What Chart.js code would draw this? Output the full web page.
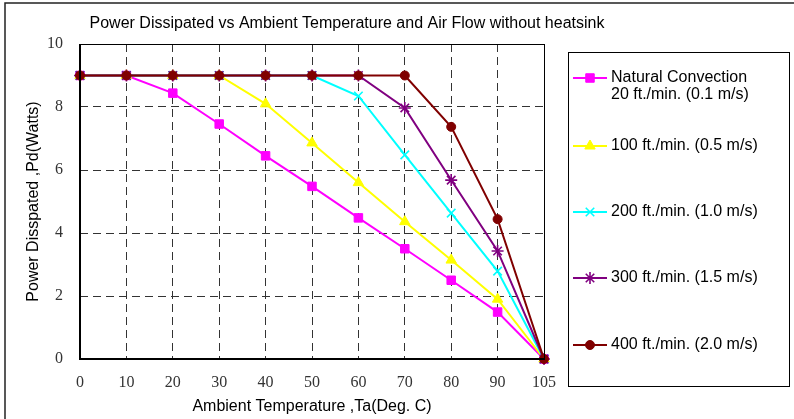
<!DOCTYPE html>
<html>
<head>
<meta charset="utf-8">
<script src="https://cdn.jsdelivr.net/npm/chart.js@4/dist/chart.umd.min.js"></script>
<style>
    html, body { margin: 0; padding: 0; background: #fff; }
    #wrap { width: 794px; height: 419px; position: relative; }
</style>
</head>
<body>
<div id="wrap"><canvas id="powerChart" width="794" height="419"></canvas></div>
<script>
// data
const temperatures = ['0', '10', '20', '30', '40', '50', '60', '70', '80', '90', '105'];
const naturalConvection = [9, 9, 8.44, 7.46, 6.45, 5.48, 4.48, 3.5, 2.5, 1.49, 0];
const flow100 = [9, 9, 9, 9, 8.1, 6.86, 5.6, 4.36, 3.14, 1.9, 0];
const flow200 = [9, 9, 9, 9, 9, 9, 8.35, 6.48, 4.63, 2.79, 0];
const flow300 = [9, 9, 9, 9, 9, 9, 9, 7.97, 5.68, 3.43, 0];
const flow400 = [9, 9, 9, 9, 9, 9, 9, 9, 7.37, 4.44, 0];
const seriesLabels = [
    ['Natural Convection', '20 ft./min. (0.1 m/s)'],
    '100 ft./min. (0.5 m/s)',
    '200 ft./min. (1.0 m/s)',
    '300 ft./min. (1.5 m/s)',
    '400 ft./min. (2.0 m/s)'
];
const yTicks = [0, 2, 4, 6, 8, 10];

const chartTitle = 'Power Dissipated vs Ambient Temperature and Air Flow without heatsink';
const sansFont = '"Liberation Sans", Arial, sans-serif';
const serifFont = '"Liberation Serif", "Times New Roman", serif';

// legend row centres (layout only)
const legendRows = [78, 146, 212, 278, 345];

function makeSeries(label, data, color, style, radius, order) {
    return {
        label: label,
        data: data,
        borderColor: color,
        backgroundColor: color,
        borderWidth: 2,
        pointStyle: style,
        pointRadius: radius,
        pointHoverRadius: radius,
        pointBorderWidth: style === 'crossRot' || style === 'star' ? 1.6 : 1,
        pointBorderColor: color,
        pointBackgroundColor: color,
        tension: 0,
        clip: false,
        order: order
    };
}

const frameAndLegend = {
    id: 'frameAndLegend',
    beforeDraw(chart) {
        const ctx = chart.ctx;
        ctx.save();
        ctx.fillStyle = '#fff';
        ctx.fillRect(0, 0, chart.width, chart.height);
        ctx.restore();
    },
    afterDatasetsDraw(chart) {
        const ctx = chart.ctx;
        const a = chart.chartArea;
        ctx.save();
        // plot box
        ctx.strokeStyle = '#000';
        ctx.lineWidth = 1;
        ctx.strokeRect(Math.round(a.left) + 0.5, Math.round(a.top) + 0.5,
            Math.round(a.right - a.left), Math.round(a.bottom - a.top));
        ctx.lineWidth = 2;
        ctx.beginPath();
        ctx.moveTo(a.left, a.top);
        ctx.lineTo(a.left, a.bottom);
        ctx.lineTo(a.right, a.bottom);
        ctx.stroke();
        ctx.restore();
    },
    afterDraw(chart) {
        const ctx = chart.ctx;
        ctx.save();

        // outer frame
        ctx.strokeStyle = '#222';
        ctx.lineWidth = 1.5;
        ctx.strokeRect(5, 3, 820, 440);

        // title
        ctx.fillStyle = '#000';
        ctx.font = '16px ' + sansFont;
        ctx.textAlign = 'center';
        ctx.textBaseline = 'middle';
        ctx.fillText(chartTitle, 347, 24);

        // legend box
        ctx.strokeStyle = '#000';
        ctx.lineWidth = 1;
        ctx.strokeRect(568.5, 52.5, 221, 334);
        ctx.textAlign = 'left';
        chart.data.datasets.forEach((ds, i) => {
            const y = legendRows[i];
            ctx.strokeStyle = ds.borderColor;
            ctx.lineWidth = 2;
            ctx.beginPath();
            ctx.moveTo(573, y);
            ctx.lineTo(607, y);
            ctx.stroke();
            ctx.fillStyle = ds.borderColor;
            ctx.lineWidth = ds.pointBorderWidth;
            Chart.helpers.drawPoint(ctx, {
                pointStyle: ds.pointStyle,
                radius: ds.pointRadius,
                borderWidth: ds.pointBorderWidth,
                rotation: 0
            }, 590, y);
            ctx.fillStyle = '#000';
            const lines = Array.isArray(ds.label) ? ds.label : [ds.label];
            lines.forEach((line, j) => ctx.fillText(line, 611, y + j * 17));
        });
        ctx.restore();
    }
};

document.addEventListener('DOMContentLoaded', () => {
    const canvas = document.getElementById('powerChart');
    new Chart(canvas, {
        type: 'line',
        data: {
            labels: temperatures,
            datasets: [
                makeSeries(seriesLabels[0], naturalConvection, '#FF00FF', 'rect', 6, 5),
                makeSeries(seriesLabels[1], flow100, '#FFFF00', 'triangle', 6, 4),
                makeSeries(seriesLabels[2], flow200, '#00FFFF', 'crossRot', 6, 3),
                makeSeries(seriesLabels[3], flow300, '#800080', 'star', 6, 2),
                makeSeries(seriesLabels[4], flow400, '#800000', 'circle', 4.5, 1)
            ]
        },
        options: {
            responsive: false,
            animation: false,
            events: [],
            layout: { padding: { left: 0, top: 44, right: 250, bottom: 0 } },
            plugins: {
                legend: { display: false },
                title: { display: false },
                tooltip: { enabled: false }
            },
            scales: {
                x: {
                    type: 'category',
                    offset: false,
                    afterFit: (scale) => { scale.height = 60; },
                    grid: {
                        color: '#333',
                        lineWidth: 1,
                        drawTicks: false
                    },
                    border: { display: false, dash: [8, 5] },
                    ticks: {
                        padding: 14,
                        color: '#333',
                        font: { family: serifFont, size: 16 },
                        maxRotation: 0,
                        autoSkip: false
                    },
                    title: {
                        display: true,
                        text: 'Ambient Temperature ,Ta(Deg. C)',
                        color: '#000',
                        font: { family: sansFont, size: 16 },
                        padding: { top: 0, bottom: 3 }
                    }
                },
                y: {
                    min: 0,
                    max: 10,
                    afterFit: (scale) => { scale.width = 80; },
                    afterBuildTicks: (scale) => {
                        scale.ticks = yTicks.map(v => ({ value: v }));
                    },
                    grid: {
                        color: '#333',
                        lineWidth: 1,
                        drawTicks: false
                    },
                    border: { display: false, dash: [8, 5] },
                    ticks: {
                        padding: 17,
                        color: '#333',
                        font: { family: serifFont, size: 16 }
                    },
                    title: {
                        display: true,
                        text: 'Power Disspated ,Pd(Watts)',
                        color: '#000',
                        font: { family: sansFont, size: 16 },
                        padding: { top: 24, bottom: 0 }
                    }
                }
            }
        },
        plugins: [frameAndLegend]
    });
});
</script>
</body>
</html>
